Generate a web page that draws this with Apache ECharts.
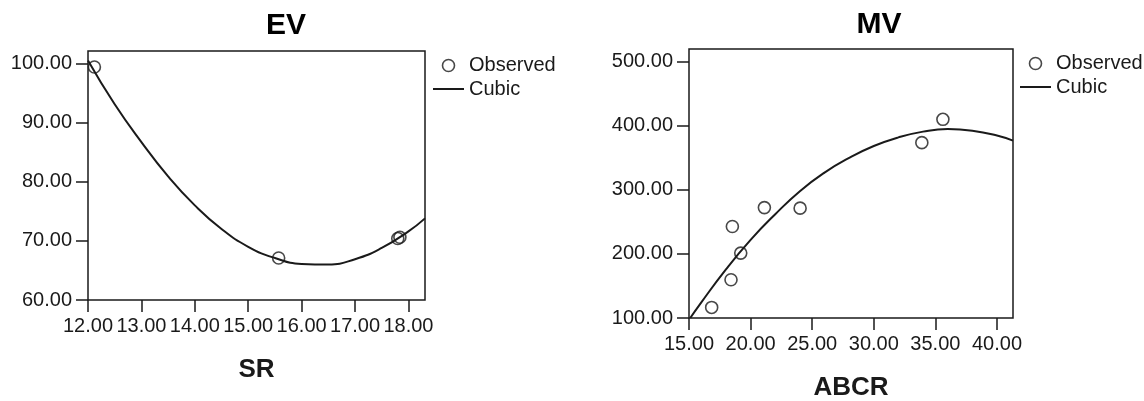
<!DOCTYPE html>
<html>
<head>
<meta charset="utf-8">
<script src="https://cdn.jsdelivr.net/npm/echarts@6/dist/echarts.min.js"></script>
<style>
html,body{margin:0;padding:0;background:#fff;}
#chart{width:1144px;height:401px;}
</style>
</head>
<body>
<div id="chart"></div>
<script>
// ---- EV vs SR ----
const evObsSR = [12.12, 15.57, 17.80, 17.84];
const evObsEV = [99.4, 67.1, 70.4, 70.6];
const evFitSR = [12.0, 12.5, 13.0, 13.5, 14.0, 14.5, 15.0, 15.5, 16.0, 16.5, 17.0, 17.5, 18.0, 18.31];
const evFitEV = [100.5, 93.1, 86.7, 80.9, 76.0, 72.0, 69.0, 67.1, 66.1, 66.0, 66.9, 68.8, 71.6, 73.8];
const evXTicks = [12, 13, 14, 15, 16, 17, 18];
const evYTicks = [60, 70, 80, 90, 100];

// ---- MV vs ABCR ----
const mvObsABCR = [16.84, 18.41, 18.52, 19.20, 21.12, 24.02, 33.90, 35.61];
const mvObsMV = [116.5, 159.7, 242.8, 201.3, 272.4, 271.5, 373.8, 410.2];
const mvFitABCR = [15.1, 16, 18, 20, 22, 24, 26, 28, 30, 32, 34, 36, 38, 40, 41.3];
const mvFitMV = [100, 124.5, 176, 222, 262, 298, 327, 350, 368.5, 382, 391, 395, 392.5, 385, 377];
const mvXTicks = [15, 20, 25, 30, 35, 40];
const mvYTicks = [100, 200, 300, 400, 500];

const FONT = "'Liberation Sans', Arial, sans-serif";
const INK = '#1a1a1a';

function pairs(xs, ys) { return xs.map((x, i) => [x, ys[i]]); }
const fmt = v => Number(v).toFixed(2);

function xAxis(grid, min, max, ticks, name) {
  return {
    type: 'value', gridIndex: grid, min: min, max: max,
    name: name, nameLocation: 'middle', nameGap: 57,
    nameTextStyle: { fontFamily: FONT, fontSize: 26, fontWeight: 'bold', color: INK },
    axisLine: { show: false },
    axisTick: { show: true, length: 12, customValues: ticks, lineStyle: { color: INK, width: 1.5 } },
    axisLabel: { customValues: ticks, formatter: fmt, margin: 16, fontFamily: FONT, fontSize: 20, color: INK },
    splitLine: { show: false }
  };
}
function yAxis(grid, min, max, ticks) {
  return {
    type: 'value', gridIndex: grid, min: min, max: max,
    axisLine: { show: false },
    axisTick: { show: true, length: 12, customValues: ticks, lineStyle: { color: INK, width: 1.5 } },
    axisLabel: { customValues: ticks, formatter: fmt, margin: 16, fontFamily: FONT, fontSize: 20, color: INK },
    splitLine: { show: false }
  };
}

const scatterStyle = { color: 'rgba(255,255,255,0)', borderColor: INK, borderWidth: 1.6 };
const lineLegendStyle = { color: 'rgba(0,0,0,0)', borderWidth: 0, opacity: 0 };

const option = {
  animation: false,
  backgroundColor: '#fff',
  title: [
    { text: 'EV', left: 286, top: 11, textAlign: 'center', padding: 0,
      textStyle: { fontFamily: FONT, fontSize: 30, fontWeight: 'bold', color: '#000' } },
    { text: 'MV', left: 879, top: 10, textAlign: 'center', padding: 0,
      textStyle: { fontFamily: FONT, fontSize: 30, fontWeight: 'bold', color: '#000' } }
  ],
  legend: [
    { orient: 'vertical', left: 432, top: 55.5, padding: 0, itemGap: 3.5, itemWidth: 31, itemHeight: 12,
      textStyle: { fontFamily: FONT, fontSize: 20, color: INK },
      data: [
        { name: 'Observed', icon: 'circle', itemStyle: scatterStyle },
        { name: 'Cubic', itemStyle: lineLegendStyle, lineStyle: { color: INK, width: 2 } }
      ] },
    { orient: 'vertical', left: 1019, top: 53.5, padding: 0, itemGap: 3.5, itemWidth: 31, itemHeight: 12,
      textStyle: { fontFamily: FONT, fontSize: 20, color: INK },
      data: [
        { name: 'Observed', icon: 'circle', itemStyle: scatterStyle },
        { name: 'Cubic', itemStyle: lineLegendStyle, lineStyle: { color: INK, width: 2 } }
      ] }
  ],
  grid: [
    { left: 88, top: 51, width: 337, height: 249, show: true, borderColor: INK, borderWidth: 1.5,
      backgroundColor: 'transparent', containLabel: false, outerBoundsMode: 'none' },
    { left: 689, top: 49, width: 324, height: 269, show: true, borderColor: INK, borderWidth: 1.5,
      backgroundColor: 'transparent', containLabel: false, outerBoundsMode: 'none' }
  ],
  xAxis: [
    xAxis(0, 12, 18.31, evXTicks, 'SR'),
    xAxis(1, 15, 41.3, mvXTicks, 'ABCR')
  ],
  yAxis: [
    yAxis(0, 60, 102.1, evYTicks),
    yAxis(1, 100, 520, mvYTicks)
  ],
  series: [
    { name: 'Cubic', type: 'line', xAxisIndex: 0, yAxisIndex: 0, data: pairs(evFitSR, evFitEV),
      smooth: 0.5, symbol: 'none', clip: true, itemStyle: { color: INK }, lineStyle: { color: INK, width: 2 } },
    { name: 'Observed', type: 'scatter', xAxisIndex: 0, yAxisIndex: 0, data: pairs(evObsSR, evObsEV),
      symbol: 'circle', symbolSize: 12, itemStyle: scatterStyle, z: 3 },
    { name: 'Cubic', type: 'line', xAxisIndex: 1, yAxisIndex: 1, data: pairs(mvFitABCR, mvFitMV),
      smooth: 0.5, symbol: 'none', clip: true, itemStyle: { color: INK }, lineStyle: { color: INK, width: 2 } },
    { name: 'Observed', type: 'scatter', xAxisIndex: 1, yAxisIndex: 1, data: pairs(mvObsABCR, mvObsMV),
      symbol: 'circle', symbolSize: 12, itemStyle: scatterStyle, z: 3 }
  ]
};

const chart = echarts.init(document.getElementById('chart'), null, { renderer: 'canvas' });
chart.setOption(option);
</script>
</body>
</html>
